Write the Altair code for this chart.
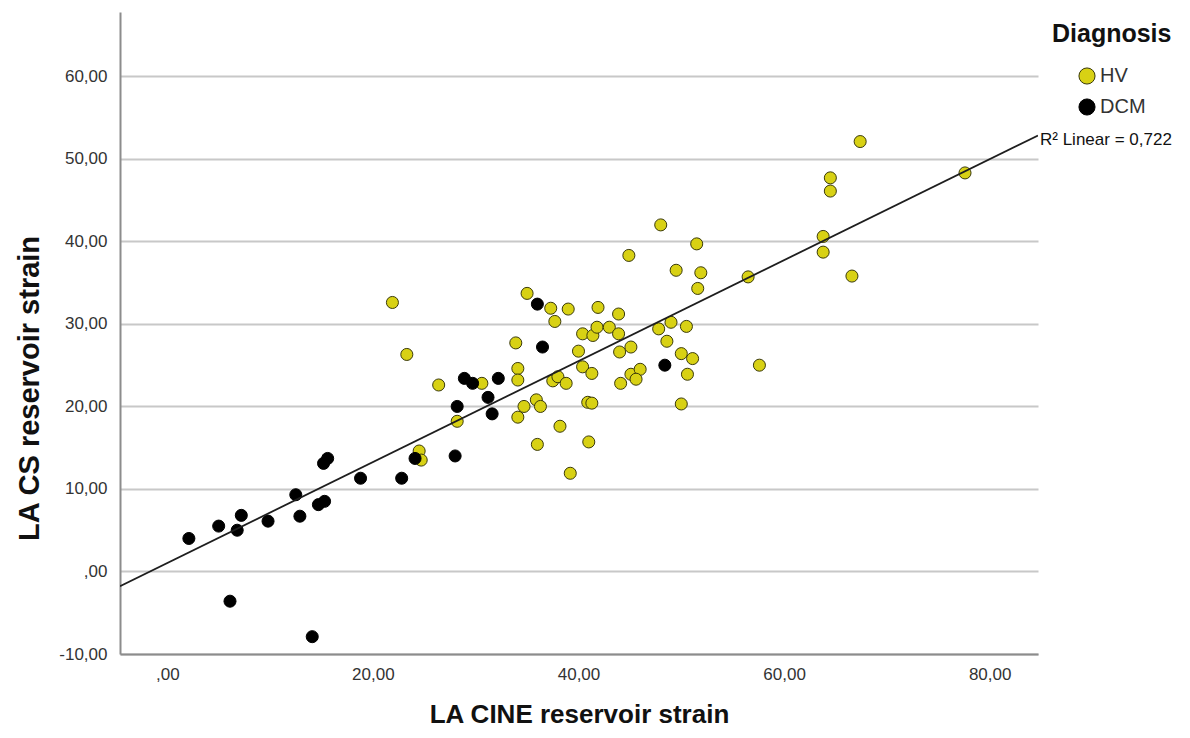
import altair as alt
import pandas as pd

# HV (healthy volunteers): LA CINE reservoir strain, LA CS reservoir strain
hv_cine = [21.9, 23.3, 26.4, 30.6, 28.2, 24.5, 24.7, 35.0, 37.3, 39.0, 41.9, 43.9, 51.6,
           37.7, 40.4, 41.4, 41.8, 43.0, 43.9, 47.8, 49.0, 50.5, 33.9, 40.0, 44.0, 45.1,
           48.6, 50.0, 51.1, 50.6, 34.1, 34.1, 40.4, 41.3, 37.5, 38.0, 38.8, 44.1, 45.1,
           46.0, 45.6, 34.7, 35.9, 36.3, 34.1, 40.9, 41.3, 50.0, 38.2, 36.0, 41.0, 67.4,
           64.5, 64.5, 77.6, 63.8, 63.8, 66.6, 48.0, 51.5, 44.9, 49.5, 51.9, 56.5, 57.6,
           39.2]
hv_cs = [32.6, 26.3, 22.6, 22.8, 18.2, 14.6, 13.5, 33.7, 31.9, 31.8, 32.0, 31.2, 34.3,
         30.3, 28.8, 28.6, 29.6, 29.6, 28.8, 29.4, 30.2, 29.7, 27.7, 26.7, 26.6, 27.2,
         27.9, 26.4, 25.8, 23.9, 24.6, 23.2, 24.8, 24.0, 23.1, 23.6, 22.8, 22.8, 23.9,
         24.5, 23.3, 20.0, 20.8, 20.0, 18.7, 20.5, 20.4, 20.3, 17.6, 15.4, 15.7, 52.1,
         47.7, 46.1, 48.3, 40.6, 38.7, 35.8, 42.0, 39.7, 38.3, 36.5, 36.2, 35.7, 25.0,
         11.9]

# DCM patients
dcm_cine = [2.1, 5.0, 6.8, 7.2, 6.1, 9.8, 12.5, 12.9, 14.7, 15.3, 15.2, 15.6, 14.1,
            18.8, 22.8, 24.1, 28.0, 28.2, 28.9, 29.7, 32.2, 31.2, 31.6, 36.0, 36.5, 48.4]
dcm_cs = [4.0, 5.5, 5.0, 6.8, -3.6, 6.1, 9.3, 6.7, 8.1, 8.5, 13.1, 13.7, -7.9,
          11.3, 11.3, 13.7, 14.0, 20.0, 23.4, 22.8, 23.4, 21.1, 19.1, 32.4, 27.2, 25.0]

groups = ["HV", "DCM"]
x_ticks = [0, 20, 40, 60, 80]
y_ticks = [-10, 0, 10, 20, 30, 40, 50, 60]
x_domain = [-4.6, 84.7]
y_domain = [-10, 67.8]
r2_label = "R\u00b2 Linear = 0,722"

df = pd.DataFrame({
    "cine": hv_cine + dcm_cine,
    "cs": hv_cs + dcm_cs,
    "Diagnosis": ["HV"] * len(hv_cine) + ["DCM"] * len(dcm_cine),
})

FONT = "Liberation Sans"
label_expr = ("datum.value == 0 ? ',00' : "
              "replace(replace(format(datum.value, '.2f'), '.', ','), '\u2212', '-')")

xscale = alt.Scale(domain=x_domain, nice=False, zero=False)
yscale = alt.Scale(domain=y_domain, nice=False, zero=False)

x_axis = alt.Axis(values=x_ticks, labelExpr=label_expr, grid=False, ticks=False,
                  labelPadding=12, labelFontSize=17, labelColor="#333333",
                  title="LA CINE reservoir strain", titleFontSize=26,
                  titleFontWeight="bold", titleColor="#111111", titlePadding=19,
                  domainColor="#8c8c8c", domainWidth=2)
y_axis = alt.Axis(values=y_ticks, labelExpr=label_expr, grid=True, ticks=False,
                  labelPadding=13, labelFontSize=17, labelColor="#333333",
                  gridColor="#c8c8c8", gridWidth=2,
                  title="LA CS reservoir strain", titleFontSize=29,
                  titleFontWeight="bold", titleColor="#111111", titlePadding=14,
                  titleY=376,
                  domainColor="#8c8c8c", domainWidth=2)

points = alt.Chart(df).mark_point(filled=True, size=145, strokeWidth=1, opacity=1,
                                  shape="circle").encode(
    x=alt.X("cine:Q", scale=xscale, axis=x_axis),
    y=alt.Y("cs:Q", scale=yscale, axis=y_axis),
    fill=alt.Fill("Diagnosis:N", title="Diagnosis",
                  scale=alt.Scale(domain=groups, range=["#d8d114", "#000000"])),
    stroke=alt.Stroke("Diagnosis:N", title="Diagnosis",
                      scale=alt.Scale(domain=groups, range=["#3a3a0a", "#000000"])),
)

fit = alt.Chart(df).transform_regression("cine", "cs", extent=x_domain)

line = fit.mark_line(color="#1e1e1e", strokeWidth=1.8, clip=True).encode(
    x=alt.X("cine:Q", scale=xscale),
    y=alt.Y("cs:Q", scale=yscale),
)

r2_text = fit.transform_filter(f"datum.cine >= {x_domain[1] - 0.01}").mark_text(
    align="left", baseline="middle", dx=2, dy=5, fontSize=17, font=FONT,
    color="#111111", text=r2_label).encode(
    x=alt.X("cine:Q", scale=xscale),
    y=alt.Y("cs:Q", scale=yscale),
)

chart = alt.layer(points, line, r2_text).properties(
    width=918, height=642,
    autosize=alt.AutoSizeParams(type="none"),
    padding={"left": 112, "top": 4, "right": 140, "bottom": 77},
).configure(
    font=FONT,
    background="white",
).configure_view(
    stroke=None,
).configure_legend(
    orient="none", legendX=932, legendY=10,
    titleFontSize=25, titleFontWeight="bold", titleColor="#111111",
    titlePadding=19,
    labelFontSize=20, labelColor="#333333", labelOffset=3,
    symbolSize=260, symbolStrokeWidth=1, symbolOffset=25, rowPadding=9,
)

chart.save("out.html", embed_options={"renderer": "svg", "actions": False})
